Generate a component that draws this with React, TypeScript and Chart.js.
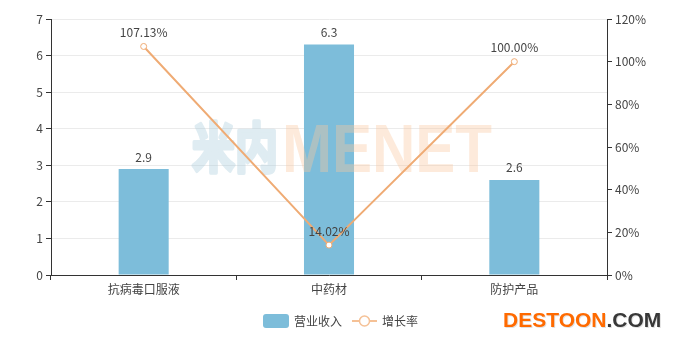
import React, { useEffect, useRef } from "react";
import { Chart, registerables } from "chart.js";

Chart.register(...registerables);

const categories = ["抗病毒口服液", "中药材", "防护产品"];
const revenue = [2.9, 6.3, 2.6];
const growth = [107.13, 14.02, 100.0];
const revenueLabel = "营业收入";
const growthLabel = "增长率";
const leftTicks = [0, 1, 2, 3, 4, 5, 6, 7];
const rightTicks = [0, 20, 40, 60, 80, 100, 120];

const BAR_COLOR = "#7dbdda";
const LINE_COLOR = "#efab74";
const TEXT_COLOR = "#444";
const FONT = '"Noto Sans CJK SC", "Noto Sans", sans-serif';

function makeWatermark(): HTMLCanvasElement {
  const c = document.createElement("canvas");
  c.width = 675;
  c.height = 342;
  const ctx = c.getContext("2d") as CanvasRenderingContext2D;
  ctx.textBaseline = "alphabetic";
  ctx.font = `bold 54px ${FONT}`;
  ctx.fillStyle = "rgb(170,205,220)";
  ctx.strokeStyle = "rgb(170,205,220)";
  ctx.lineWidth = 4;
  ctx.lineJoin = "round";
  const w1 = ctx.measureText("米内").width;
  ctx.save();
  ctx.translate(192, 168);
  ctx.scale(86 / w1, 1);
  ctx.fillText("米内", 0, 0);
  ctx.strokeText("米内", 0, 0);
  ctx.restore();
  ctx.font = `bold 68px "Liberation Sans", Arial, sans-serif`;
  ctx.fillStyle = "rgb(250,200,160)";
  const w2 = ctx.measureText("MENET").width;
  ctx.save();
  ctx.translate(282, 172);
  ctx.scale(210 / w2, 1);
  ctx.fillText("MENET", 0, 0);
  ctx.restore();
  return c;
}

const overlayPlugin = {
  id: "overlay",
  afterDatasetDraw(chart: any, args: any) {
    if (args.index !== 0) return;
    const ctx = chart.ctx;
    ctx.save();
    ctx.globalAlpha = 0.38;
    ctx.drawImage(makeWatermark(), 0, 0);
    ctx.restore();
  },
  afterDatasetsDraw(chart: any) {
    const ctx = chart.ctx;
    ctx.save();
    ctx.font = `12px ${FONT}`;
    ctx.fillStyle = TEXT_COLOR;
    ctx.textAlign = "center";
    ctx.textBaseline = "bottom";
    const barMeta = chart.getDatasetMeta(0);
    barMeta.data.forEach((el: any, i: number) => {
      ctx.fillText(String(revenue[i]), el.x, el.y - 6);
    });
    const lineMeta = chart.getDatasetMeta(1);
    lineMeta.data.forEach((el: any, i: number) => {
      ctx.fillText(growth[i].toFixed(2) + "%", el.x, el.y - 8);
    });

    // Legend
    const cy = 321;
    ctx.fillStyle = BAR_COLOR;
    ctx.beginPath();
    (ctx as any).roundRect(263, 314, 26, 14, 3);
    ctx.fill();
    ctx.fillStyle = TEXT_COLOR;
    ctx.textAlign = "left";
    ctx.textBaseline = "middle";
    ctx.fillText(revenueLabel, 294, cy);
    ctx.strokeStyle = "#f5c196";
    ctx.lineWidth = 2;
    ctx.beginPath();
    ctx.moveTo(352, cy);
    ctx.lineTo(377, cy);
    ctx.stroke();
    ctx.beginPath();
    ctx.arc(364.5, cy, 5, 0, Math.PI * 2);
    ctx.fillStyle = "#fff";
    ctx.fill();
    ctx.lineWidth = 1.5;
    ctx.stroke();
    ctx.fillStyle = TEXT_COLOR;
    ctx.fillText(growthLabel, 382, cy);

    // DESTOON.COM
    ctx.font = `bold 21px "Liberation Sans", Arial, sans-serif`;
    ctx.textBaseline = "alphabetic";
    const part1 = "DESTOON";
    const part2 = ".COM";
    const x0 = 503;
    const by = 327;
    ctx.fillStyle = "rgba(0,0,0,0.12)";
    ctx.fillText(part1 + part2, x0 + 1, by + 1);
    ctx.fillStyle = "#ff6a00";
    ctx.fillText(part1, x0, by);
    const pw = ctx.measureText(part1).width;
    ctx.fillStyle = "#383838";
    ctx.fillText(part2, x0 + pw, by);
    ctx.restore();
  },
};

export default function App() {
  const ref = useRef<HTMLCanvasElement | null>(null);
  useEffect(() => {
    document.body.style.margin = "0";
    const canvas = ref.current;
    if (!canvas) return;
    const chart = new Chart(canvas, {
      type: "bar",
      data: {
        labels: categories,
        datasets: [
          {
            type: "bar",
            label: revenueLabel,
            data: revenue,
            backgroundColor: BAR_COLOR,
            barPercentage: 0.54,
            categoryPercentage: 0.5,
            yAxisID: "y",
            order: 1,
          },
          {
            type: "line",
            label: growthLabel,
            data: growth,
            borderColor: LINE_COLOR,
            borderWidth: 2,
            pointRadius: 3,
            pointBackgroundColor: "#fff",
            pointBorderColor: LINE_COLOR,
            pointBorderWidth: 1,
            tension: 0,
            yAxisID: "y1",
            order: 0,
          } as any,
        ],
      },
      plugins: [overlayPlugin],
      options: {
        animation: false,
        responsive: false,
        devicePixelRatio: 1,
        layout: { padding: { left: 0, right: 0, top: 19, bottom: 37 } },
        plugins: {
          legend: { display: false },
          tooltip: { enabled: false },
        },
        scales: {
          x: {
            offset: true,
            grid: {
              offset: true,
              drawOnChartArea: false,
              drawTicks: true,
              tickLength: 5,
              tickColor: "#333",
            },
            border: { color: "#333", width: 1 },
            ticks: {
              color: TEXT_COLOR,
              font: { size: 12, family: FONT },
              padding: 2,
            },
            afterFit(scale: any) {
              scale.height = 30;
            },
          },
          y: {
            position: "left",
            min: 0,
            max: 7,
            afterBuildTicks(scale: any) {
              scale.ticks = leftTicks.map((v) => ({ value: v }));
            },
            grid: {
              color: "#ebebeb",
              tickColor: "#333",
              tickLength: 5,
            },
            border: { color: "#333", width: 1 },
            ticks: {
              color: TEXT_COLOR,
              font: { size: 12, family: FONT },
              padding: 3,
            },
            afterFit(scale: any) {
              scale.width = 51;
            },
          },
          y1: {
            position: "right",
            min: 0,
            max: 120,
            afterBuildTicks(scale: any) {
              scale.ticks = rightTicks.map((v) => ({ value: v }));
            },
            grid: {
              drawOnChartArea: false,
              tickColor: "#333",
              tickLength: 5,
            },
            border: { color: "#333", width: 1 },
            ticks: {
              color: TEXT_COLOR,
              font: { size: 12, family: FONT },
              padding: 3,
              callback: (v: any) => v + "%",
            },
            afterFit(scale: any) {
              scale.width = 68;
            },
          },
        },
      },
    });
    return () => chart.destroy();
  }, []);
  return <canvas ref={ref} width={675} height={342} style={{ display: "block" }} />;
}
